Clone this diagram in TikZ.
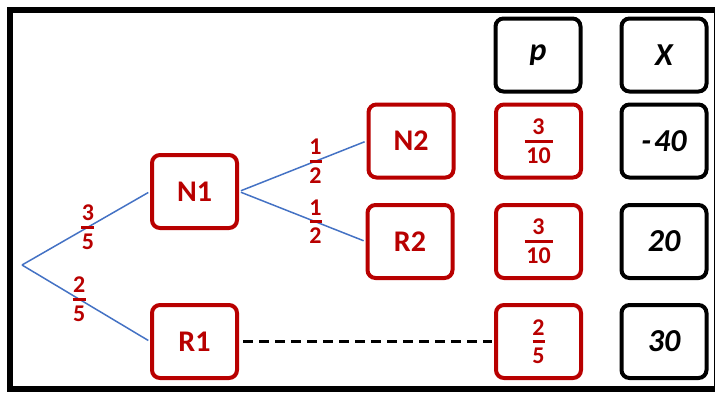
\documentclass[tikz,border=0pt]{standalone}
\usepackage{fontspec}
\setmainfont{Carlito}
\definecolor{boxred}{RGB}{184,0,0}
\definecolor{branch}{RGB}{68,114,196}
% stacked fraction: numerator, denominator, bar width
\newcommand\stackedfrac[3]{%
  \vbox{\offinterlineskip\halign{\hfil##\hfil\cr
    #1\cr\noalign{\kern5pt}%
    \vrule width #3 height 3pt depth 0pt\cr\noalign{\kern5pt}%
    #2\cr}}}
\begin{document}
\begin{tikzpicture}[x=1pt,y=-1pt,
  rbox/.style={draw=boxred, text=boxred, line width=4pt, rounded corners=8pt,
    minimum width=85pt, minimum height=73pt, inner sep=0pt,
    font=\fontsize{30}{32}\selectfont\bfseries},
  fbox/.style={rbox, font=\fontsize{24}{26}\selectfont\bfseries},
  kbox/.style={draw=black, line width=4pt, rounded corners=8pt,
    minimum width=85pt, minimum height=73pt, inner sep=0pt,
    font=\fontsize{32}{34}\selectfont\bfseries\itshape},
  branchline/.style={draw=branch, line width=1.5pt, shorten >=2pt},
  prob/.style={text=boxred, font=\fontsize{24}{26}\selectfont\bfseries, inner sep=0pt}]
\useasboundingbox (0,0) rectangle (717,394);
% frame
\draw[line width=6pt] (714.5,9.5) -- (10,9.5) -- (10,388.5) -- (714.5,388.5);
\draw[line width=1pt] (714.5,9.5) -- (714.5,388.5);

% tree nodes
\coordinate (root) at (22,265);
\node[rbox] (N1) at (194.5,191.5) {N1};
\node[rbox] (R1) at (194.5,341.5) {R1};
\node[rbox] (N2) at (411,141) {N2};
\node[rbox] (R2) at (410,241.5) {R2};

% probability column
\node[kbox] (hp) at (538,55) {p};
\node[fbox] (pN2) at (538.5,141) {\stackedfrac{3}{10}{28pt}};
\node[fbox] (pR2) at (538.5,241.5) {\stackedfrac{3}{10}{28pt}};
\node[fbox] (pR1) at (538.5,341.5) {\stackedfrac{2}{5}{12pt}};

% value column
\node[kbox] (hx) at (664,55) {X};
\node[kbox] (xN2) at (664,141) {-\kern3pt40};
\node[kbox] (xR2) at (664,241.5) {20};
\node[kbox] (xR1) at (664,341.5) {30};

% branches
\draw[branchline] (root) -- node[prob,pos=0.515] (l1) {\stackedfrac{3}{5}{13pt}} (N1.west);
\draw[branchline] (root) -- node[prob,pos=0.446] (l2) {\stackedfrac{2}{5}{13pt}} (R1.west);
\draw[branchline, shorten <=2pt] (N1.east) -- node[prob,pos=0.6] (l3) {\stackedfrac{1}{2}{12pt}} (N2.west);
\draw[branchline, shorten <=2pt] (N1.east) -- node[prob,pos=0.605] (l4) {\stackedfrac{1}{2}{12pt}} (R2.west);
\draw[line width=3pt, dash pattern=on 10pt off 6pt, shorten <=4pt, shorten >=2pt] (R1.east) -- (pR1.west);
\end{tikzpicture}
\end{document}
